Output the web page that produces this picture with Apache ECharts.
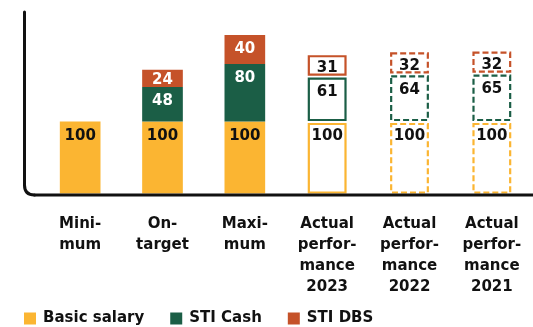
<!DOCTYPE html>
<html>
<head>
<meta charset="utf-8">
<script src="https://cdn.jsdelivr.net/npm/echarts@6/dist/echarts.min.js"></script>
<style>
  html, body { margin: 0; padding: 0; background: #ffffff; }
  #chart { width: 533px; height: 327px; }
</style>
</head>
<body>
<div id="chart"></div>
<script>
// Remuneration scenarios (index, basic salary = 100)
const categories = [
  'Mini-\nmum',
  'On-\ntarget',
  'Maxi-\nmum',
  'Actual\nperfor-\nmance\n2023',
  'Actual\nperfor-\nmance\n2022',
  'Actual\nperfor-\nmance\n2021'
];
const basicSalary = [100, 100, 100, 100, 100, 100];
const stiCash = [0, 48, 80, 61, 64, 65];
const stiDbs = [0, 24, 40, 31, 32, 32];

const seriesNames = ['Basic salary', 'STI Cash', 'STI DBS'];
const seriesColors = ['#FBB532', '#1B5E46', '#C55229'];
const labelColors = ['#111111', '#ffffff', '#ffffff'];
const stack = [basicSalary, stiCash, stiDbs];

const FONT = '"DejaVu Sans", sans-serif';

function makeRenderer(s) {
  return function (params, api) {
    const i = params.dataIndex;
    const val = stack[s][i];
    if (!val) return null;
    let base = 0;
    for (let k = 0; k < s; k++) base += stack[k][i];
    const pBase = api.coord([i, base]);
    const pTop = api.coord([i, base + val]);
    const w = api.size([1, 0])[0] * 0.494;
    const x = pBase[0] - w / 2;
    const yTop = pTop[1];
    const yBot = pBase[1];
    const h = yBot - yTop;
    const children = [];
    const filled = i < 3;
    if (filled) {
      children.push({
        type: 'rect',
        shape: { x: x, y: yTop, width: w, height: h },
        style: { fill: seriesColors[s] }
      });
    } else {
      // outlined scenarios: solid for the current year, dashed for earlier years
      const dashed = i >= 4;
      const insetTop = s === 0 ? 2.5 : 1;
      const insetBot = s === 0 ? 1 : (s === 1 ? 1.5 : 3);
      children.push({
        type: 'rect',
        shape: { x: x + 2, y: yTop + insetTop, width: w - 4, height: h - insetTop - insetBot },
        style: {
          fill: '#ffffff',
          stroke: seriesColors[s],
          lineWidth: 2.2,
          lineDash: dashed ? [6, 3] : null
        }
      });
    }
    const off = Math.min(14.5, h / 2 + 2);
    children.push({
      type: 'text',
      style: {
        text: String(val),
        x: pBase[0],
        y: yTop + off,
        align: 'center',
        verticalAlign: 'middle',
        fill: filled ? labelColors[s] : '#111111',
        font: 'bold 15px ' + FONT
      }
    });
    return { type: 'group', children: children };
  };
}

const frameStyle = { stroke: '#111111', lineWidth: 3, lineCap: 'round', fill: null };

const chart = echarts.init(document.getElementById('chart'));
chart.setOption({
  animation: false,
  backgroundColor: '#ffffff',
  grid: { left: 39, width: 498, top: 13.5, bottom: 133.5, containLabel: false },
  xAxis: {
    type: 'category',
    data: categories,
    axisLine: { show: false },
    axisTick: { show: false },
    axisLabel: {
      interval: 0,
      margin: 20,
      color: '#111111',
      fontFamily: FONT,
      fontWeight: 'bold',
      fontSize: 15,
      lineHeight: 21
    }
  },
  yAxis: {
    type: 'value',
    min: 0,
    max: 250,
    show: false,
    splitLine: { show: false }
  },
  legend: {
    left: 19,
    top: 306,
    icon: 'rect',
    itemWidth: 12,
    itemHeight: 12,
    itemGap: 26,
    textStyle: {
      color: '#111111',
      fontFamily: FONT,
      fontWeight: 'bold',
      fontSize: 15,
      padding: [0, 0, 0, 2]
    },
    data: seriesNames
  },
  graphic: [
    { type: 'line', shape: { x1: 24.5, y1: 12, x2: 24.5, y2: 185 }, style: frameStyle, z: 10 },
    { type: 'bezierCurve', shape: { x1: 24.5, y1: 185, cpx1: 24.5, cpy1: 195, x2: 34.5, y2: 195 }, style: frameStyle, z: 10 },
    { type: 'line', shape: { x1: 34.5, y1: 195, x2: 540, y2: 195 }, style: frameStyle, z: 10 }
  ],
  series: seriesNames.map(function (name, s) {
    return {
      name: name,
      type: 'custom',
      itemStyle: { color: seriesColors[s] },
      renderItem: makeRenderer(s),
      data: stack[s].map(function (v, i) { return [i, v]; })
    };
  })
});
</script>
</body>
</html>
